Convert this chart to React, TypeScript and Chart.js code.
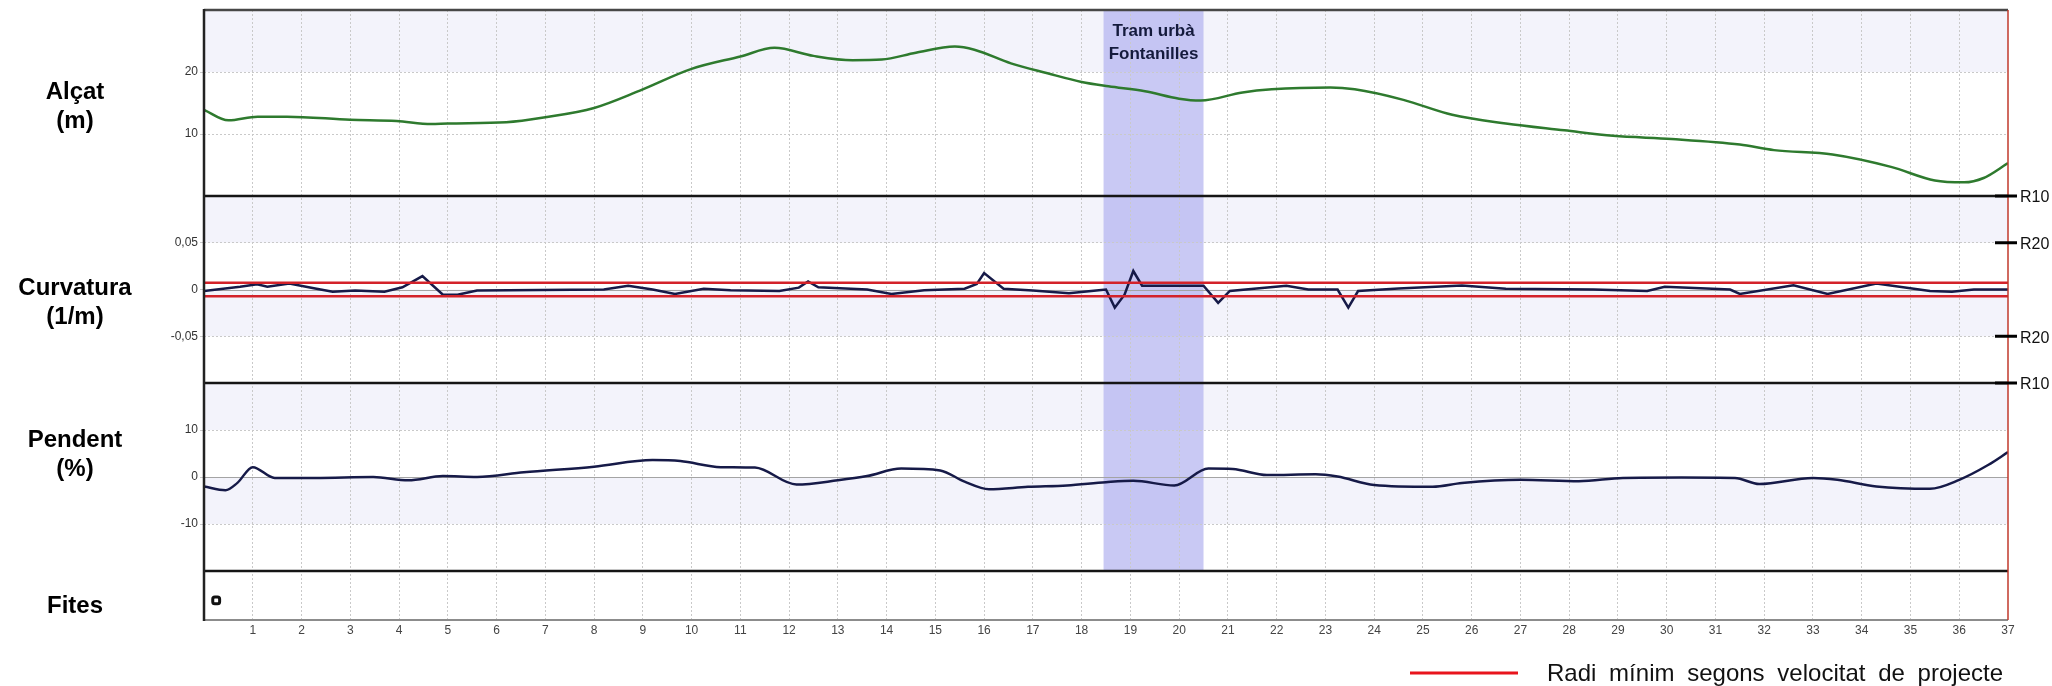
import React, { useEffect, useRef } from "react";
import { Chart, registerables } from "chart.js";

Chart.register(...registerables);

// ---------- DATA ----------
const kmMin = 0;
const kmMax = 37;

// Alçat (m)
const elevKm = [0, 0.5, 1.1, 1.7, 3.0, 3.95, 4.66, 5.0, 6.2, 7.0, 8.0, 8.94, 10.0, 11.0, 11.7, 12.5, 13.3, 13.9, 14.6, 15.4, 15.8, 16.55, 17.3, 18.0, 18.55, 19.3, 20.0, 20.44, 21.3, 21.9, 23.1, 23.6, 24.6, 25.6, 26.7, 27.9, 28.9, 30.1, 31.5, 32.2, 33.4, 34.6, 35.5, 36.1, 36.5, 37.0];
const elevM = [13.9, 12.2, 12.8, 12.8, 12.3, 12.1, 11.6, 11.7, 11.9, 12.7, 14.2, 17.0, 20.5, 22.5, 23.9, 22.6, 21.9, 22.0, 23.1, 24.1, 23.6, 21.4, 19.8, 18.4, 17.7, 16.9, 15.7, 15.4, 16.7, 17.2, 17.5, 17.2, 15.5, 13.1, 11.7, 10.6, 9.7, 9.2, 8.3, 7.4, 6.7, 4.7, 2.5, 2.2, 2.9, 5.3];

// Curvatura (1/m)
const curvKm = [0, 0.74, 1.09, 1.3, 1.75, 2.28, 2.64, 3.1, 3.7, 4.07, 4.48, 4.9, 5.2, 5.6, 8.2, 8.7, 9.2, 9.66, 10.25, 10.8, 11.8, 12.2, 12.39, 12.6, 13.6, 14.1, 14.77, 15.6, 15.85, 16.0, 16.4, 17.0, 17.74, 18.3, 18.5, 18.68, 18.88, 19.06, 19.24, 20.5, 20.8, 21.04, 22.2, 22.65, 23.25, 23.47, 23.67, 24.5, 25.8, 26.7, 28.5, 29.6, 29.96, 31.3, 31.5, 32.6, 33.3, 34.3, 35.4, 35.85, 36.3, 37.0];
const curvVal = [-0.0016, 0.003, 0.0056, 0.003, 0.0063, 0.001, -0.0024, -0.001, -0.0024, 0.0024, 0.0143, -0.0056, -0.0056, -0.001, 0, 0.004, 0, -0.0048, 0.0008, -0.0008, -0.0016, 0.002, 0.0087, 0.0024, 0, -0.0048, -0.0008, 0.0008, 0.006, 0.0175, 0.0008, -0.001, -0.004, -0.001, 0, -0.0194, -0.0056, 0.0198, 0.004, 0.004, -0.0143, -0.0016, 0.004, 0, 0, -0.0194, -0.0016, 0.001, 0.0044, 0.0008, 0, -0.0016, 0.003, 0, -0.0048, 0.0044, -0.0048, 0.0063, -0.0016, -0.0024, 0, 0];

// Radi mínim segons velocitat de projecte (±1/R)
const radiMinimCurv = 0.00714;

// Pendent (%)
const pendKm = [0, 0.44, 0.68, 1.0, 1.45, 2.28, 3.47, 4.19, 4.9, 5.6, 6.56, 8.0, 9.2, 9.77, 10.6, 11.3, 12.15, 13.0, 13.6, 14.3, 15.1, 15.6, 16.1, 16.9, 17.7, 18.5, 19.06, 19.9, 20.6, 21.1, 21.8, 22.8, 23.25, 24.0, 25.2, 25.8, 27.0, 28.2, 29.1, 30.3, 31.4, 31.9, 33.0, 33.5, 34.3, 35.4, 36.0, 36.6, 37.0];
const pendPct = [-2.0, -2.8, -1.3, 2.1, -0.2, -0.2, 0, -0.7, 0.2, 0, 1.0, 2.2, 3.6, 3.4, 2.1, 2.0, -1.6, -0.7, 0.2, 1.8, 1.4, -1.0, -2.6, -2.1, -1.8, -1.1, -0.8, -1.8, 1.8, 1.7, 0.4, 0.6, 0.1, -1.7, -2.1, -1.3, -0.6, -0.9, -0.2, -0.1, -0.2, -1.5, -0.2, -0.6, -2.0, -2.5, -0.6, 2.6, 5.3];

// Fites
const fitesKm = [0.25];
const fitesVal = [0.4];

// Tram urbà
const tramStartKm = 18.45;
const tramEndKm = 20.5;
const tramLabel = ["Tram urbà", "Fontanilles"];

// Right-side radius marks on the curvature panel
const radiusMarkValues = [0.1, 0.05, -0.05, -0.1];
const radiusMarkLabels = ["R10", "R20", "R20", "R10"];

const panelTitles = [["Alçat", "(m)"], ["Curvatura", "(1/m)"], ["Pendent", "(%)"], ["Fites"]];
const legendText = "Radi mínim segons velocitat de projecte";

// ---------- STYLE ----------
const FONT = '"Liberation Sans", Arial, sans-serif';
const LAVENDER = "#f3f3fb";
const GREEN = "#2e7a2e";
const NAVY = "#161a48";
const RED = "#d3222a";
const GRID = "#c9c9c9";

const titleOffsets = [[89, 118], [99, 128], [64, 93], [42]];

const decorPlugin = {
  id: "decor",
  beforeDraw(chart: any) {
    const { ctx, chartArea: ca, scales } = chart;
    const sA = scales.yAlc, sC = scales.yCurv, sP = scales.yPend, x = scales.x;
    ctx.save();
    ctx.fillStyle = "#ffffff";
    ctx.fillRect(0, 0, chart.width, chart.height);
    const band = (s: any, a: number, b: number) => {
      const y1 = s.getPixelForValue(b);
      const y2 = s.getPixelForValue(a);
      ctx.fillRect(ca.left, y1, ca.right - ca.left, y2 - y1);
    };
    ctx.fillStyle = LAVENDER;
    band(sA, 20, 30);
    band(sC, 0.05, 0.1);
    band(sC, -0.05, 0);
    band(sP, 10, 20);
    band(sP, -10, 0);
    const x1 = x.getPixelForValue(tramStartKm);
    const x2 = x.getPixelForValue(tramEndKm);
    ctx.fillStyle = "rgba(168,168,238,0.62)";
    ctx.fillRect(x1, sA.top, x2 - x1, sP.bottom - sA.top);
    ctx.restore();
  },
  beforeDatasetsDraw(chart: any) {
    const { ctx, chartArea: ca, scales } = chart;
    ctx.save();
    ctx.strokeStyle = "#a4a4a4";
    ctx.lineWidth = 1;
    [scales.yCurv, scales.yPend].forEach((s: any) => {
      const y = Math.round(s.getPixelForValue(0)) + 0.5;
      ctx.beginPath();
      ctx.moveTo(ca.left, y);
      ctx.lineTo(ca.right, y);
      ctx.stroke();
    });
    ctx.restore();
  },
  afterDraw(chart: any) {
    const { ctx, chartArea: ca, scales } = chart;
    const sA = scales.yAlc, sC = scales.yCurv, sP = scales.yPend, sF = scales.yFit, x = scales.x;
    ctx.save();
    const hline = (y: number, color: string, w: number, x1 = ca.left, x2 = ca.right) => {
      ctx.beginPath();
      ctx.strokeStyle = color;
      ctx.lineWidth = w;
      ctx.moveTo(x1, y);
      ctx.lineTo(x2, y);
      ctx.stroke();
    };
    const vline = (xx: number, y1: number, y2: number, color: string, w: number) => {
      ctx.beginPath();
      ctx.strokeStyle = color;
      ctx.lineWidth = w;
      ctx.moveTo(xx, y1);
      ctx.lineTo(xx, y2);
      ctx.stroke();
    };
    // panel frames
    hline(sC.top, "#151515", 2.5);
    hline(sP.top, "#151515", 2.5);
    hline(sF.top, "#151515", 2.5);
    hline(ca.top, "#474747", 2.5);
    hline(ca.bottom, "#8c8c8c", 2);
    vline(ca.left, ca.top - 1, ca.bottom + 1, "#222222", 2.5);
    vline(ca.right, ca.top, ca.bottom, "#c0392b", 1.5);

    // radius marks
    ctx.font = `16px ${FONT}`;
    ctx.fillStyle = "#111";
    ctx.textAlign = "left";
    ctx.textBaseline = "middle";
    radiusMarkValues.forEach((v, i) => {
      const y = sC.getPixelForValue(v);
      hline(y, "#000", 3, ca.right - 13, ca.right + 9);
      ctx.fillText(radiusMarkLabels[i], ca.right + 12, y + 2);
    });

    // panel titles
    ctx.font = `bold 24px ${FONT}`;
    ctx.fillStyle = "#000";
    ctx.textAlign = "center";
    ctx.textBaseline = "alphabetic";
    [sA, sC, sP, sF].forEach((s: any, i: number) => {
      panelTitles[i].forEach((t, j) => {
        ctx.fillText(t, 75, s.top + titleOffsets[i][j]);
      });
    });

    // tram label
    const tx = (x.getPixelForValue(tramStartKm) + x.getPixelForValue(tramEndKm)) / 2;
    ctx.font = `bold 17px ${FONT}`;
    ctx.fillStyle = "#141a3c";
    ctx.fillText(tramLabel[0], tx, sA.top + 26);
    ctx.fillText(tramLabel[1], tx, sA.top + 49);

    // legend
    const ly = 673;
    hline(ly, "#e8141c", 3, 1410, 1518);
    ctx.font = `24px ${FONT}`;
    ctx.fillStyle = "#111";
    ctx.textAlign = "left";
    ctx.textBaseline = "middle";
    const words = legendText.split(" ");
    const total = 456;
    const wordsW = words.reduce((acc, w) => acc + ctx.measureText(w).width, 0);
    const gap = Math.max(5, (total - wordsW) / (words.length - 1));
    let cx = 1547;
    words.forEach((w) => {
      ctx.fillText(w, cx, ly + 1);
      cx += ctx.measureText(w).width + gap;
    });
    ctx.restore();
  },
};

const pts = (xs: number[], ys: number[]) => xs.map((k, i) => ({ x: k, y: ys[i] }));

const yGridColor = (hide: (v: number) => boolean) => (c: any) => {
  const v = c.tick ? c.tick.value : null;
  if (v == null || hide(v)) return "transparent";
  return GRID;
};

export default function App() {
  const ref = useRef<HTMLCanvasElement | null>(null);

  useEffect(() => {
    document.body.style.margin = "0";
    const canvas = ref.current;
    if (!canvas) return;
    Chart.defaults.font.family = FONT;
    const chart = new Chart(canvas, {
      type: "line",
      data: {
        datasets: [
          {
            label: "Radi mínim +",
            data: [{ x: kmMin, y: radiMinimCurv }, { x: kmMax, y: radiMinimCurv }],
            yAxisID: "yCurv",
            borderColor: RED,
            borderWidth: 2.5,
            pointRadius: 0,
            order: 0,
          },
          {
            label: "Radi mínim -",
            data: [{ x: kmMin, y: -radiMinimCurv }, { x: kmMax, y: -radiMinimCurv }],
            yAxisID: "yCurv",
            borderColor: RED,
            borderWidth: 2.5,
            pointRadius: 0,
            order: 0,
          },
          {
            label: "Alçat",
            data: pts(elevKm, elevM),
            yAxisID: "yAlc",
            borderColor: GREEN,
            borderWidth: 2.5,
            pointRadius: 0,
            cubicInterpolationMode: "monotone",
            order: 1,
          },
          {
            label: "Curvatura",
            data: pts(curvKm, curvVal),
            yAxisID: "yCurv",
            borderColor: NAVY,
            borderWidth: 2.5,
            pointRadius: 0,
            tension: 0,
            order: 1,
          },
          {
            label: "Pendent",
            data: pts(pendKm, pendPct),
            yAxisID: "yPend",
            borderColor: NAVY,
            borderWidth: 2.5,
            pointRadius: 0,
            cubicInterpolationMode: "monotone",
            order: 1,
          },
          {
            label: "Fites",
            data: pts(fitesKm, fitesVal),
            yAxisID: "yFit",
            showLine: false,
            pointStyle: "rectRounded",
            pointRadius: 4,
            pointBorderWidth: 3,
            pointBorderColor: "#111",
            pointBackgroundColor: "#fff",
            order: 0,
          },
        ],
      },
      options: {
        animation: false,
        responsive: false,
        devicePixelRatio: 1,
        events: [],
        layout: { padding: { left: 160, right: 44, top: 10, bottom: 44 } },
        plugins: { legend: { display: false }, tooltip: { enabled: false } },
        scales: {
          x: {
            type: "linear",
            min: kmMin,
            max: kmMax,
            afterFit: (s: any) => { s.height = 22; },
            ticks: {
              stepSize: 1,
              autoSkip: false,
              maxRotation: 0,
              padding: 3,
              color: "#444",
              font: { size: 12 },
              callback: (v: any) => (v === 0 ? "" : String(v)),
            },
            grid: {
              drawTicks: false,
              color: (c: any) => (c.tick && (c.tick.value === kmMin || c.tick.value === kmMax) ? "transparent" : GRID),
              lineWidth: 1,
            },
            border: { display: false, dash: [2, 2] },
          },
          yAlc: {
            type: "linear",
            position: "left",
            stack: "panels",
            stackWeight: 186,
            weight: 4,
            min: 0,
            max: 30,
            afterFit: (s: any) => { s.width = 44; },
            ticks: {
              stepSize: 10,
              padding: 2,
              color: "#333",
              font: { size: 12 },
              callback: (v: any) => (v === 10 || v === 20 ? String(v) : ""),
            },
            grid: {
              tickLength: 4,
              color: yGridColor((v) => v !== 10 && v !== 20),
              tickColor: yGridColor((v) => v !== 10 && v !== 20),
            },
            border: { display: false, dash: [2, 2] },
          },
          yCurv: {
            type: "linear",
            position: "left",
            stack: "panels",
            stackWeight: 187,
            weight: 3,
            min: -0.1,
            max: 0.1,
            afterFit: (s: any) => { s.width = 44; },
            ticks: {
              stepSize: 0.05,
              padding: 2,
              color: "#333",
              font: { size: 12 },
              callback: (v: any) => {
                const r = Math.round(v * 100) / 100;
                if (Math.abs(r) > 0.09) return "";
                return r === 0 ? "0" : String(r).replace(".", ",");
              },
            },
            grid: {
              tickLength: 4,
              color: yGridColor((v) => Math.abs(v) < 1e-9 || Math.abs(v) > 0.09),
              tickColor: yGridColor((v) => Math.abs(v) > 0.09),
            },
            border: { display: false, dash: [2, 2] },
          },
          yPend: {
            type: "linear",
            position: "left",
            stack: "panels",
            stackWeight: 188,
            weight: 2,
            min: -20,
            max: 20,
            afterFit: (s: any) => { s.width = 44; },
            ticks: {
              stepSize: 10,
              padding: 2,
              color: "#333",
              font: { size: 12 },
              callback: (v: any) => (Math.abs(v) <= 10 ? String(v) : ""),
            },
            grid: {
              tickLength: 4,
              color: yGridColor((v) => v === 0 || Math.abs(v) > 10),
              tickColor: yGridColor((v) => Math.abs(v) > 10),
            },
            border: { display: false, dash: [2, 2] },
          },
          yFit: {
            type: "linear",
            position: "left",
            stack: "panels",
            stackWeight: 49,
            weight: 1,
            min: 0,
            max: 1,
            afterFit: (s: any) => { s.width = 44; },
            ticks: { display: false },
            grid: { display: false },
            border: { display: false },
          },
        },
      } as any,
      plugins: [decorPlugin],
    } as any);
    return () => chart.destroy();
  }, []);

  return (
    <div style={{ position: "absolute", left: 0, top: 0, width: 2052, height: 686, background: "#fff" }}>
      <canvas ref={ref} width={2052} height={686} style={{ display: "block" }} />
    </div>
  );
}
